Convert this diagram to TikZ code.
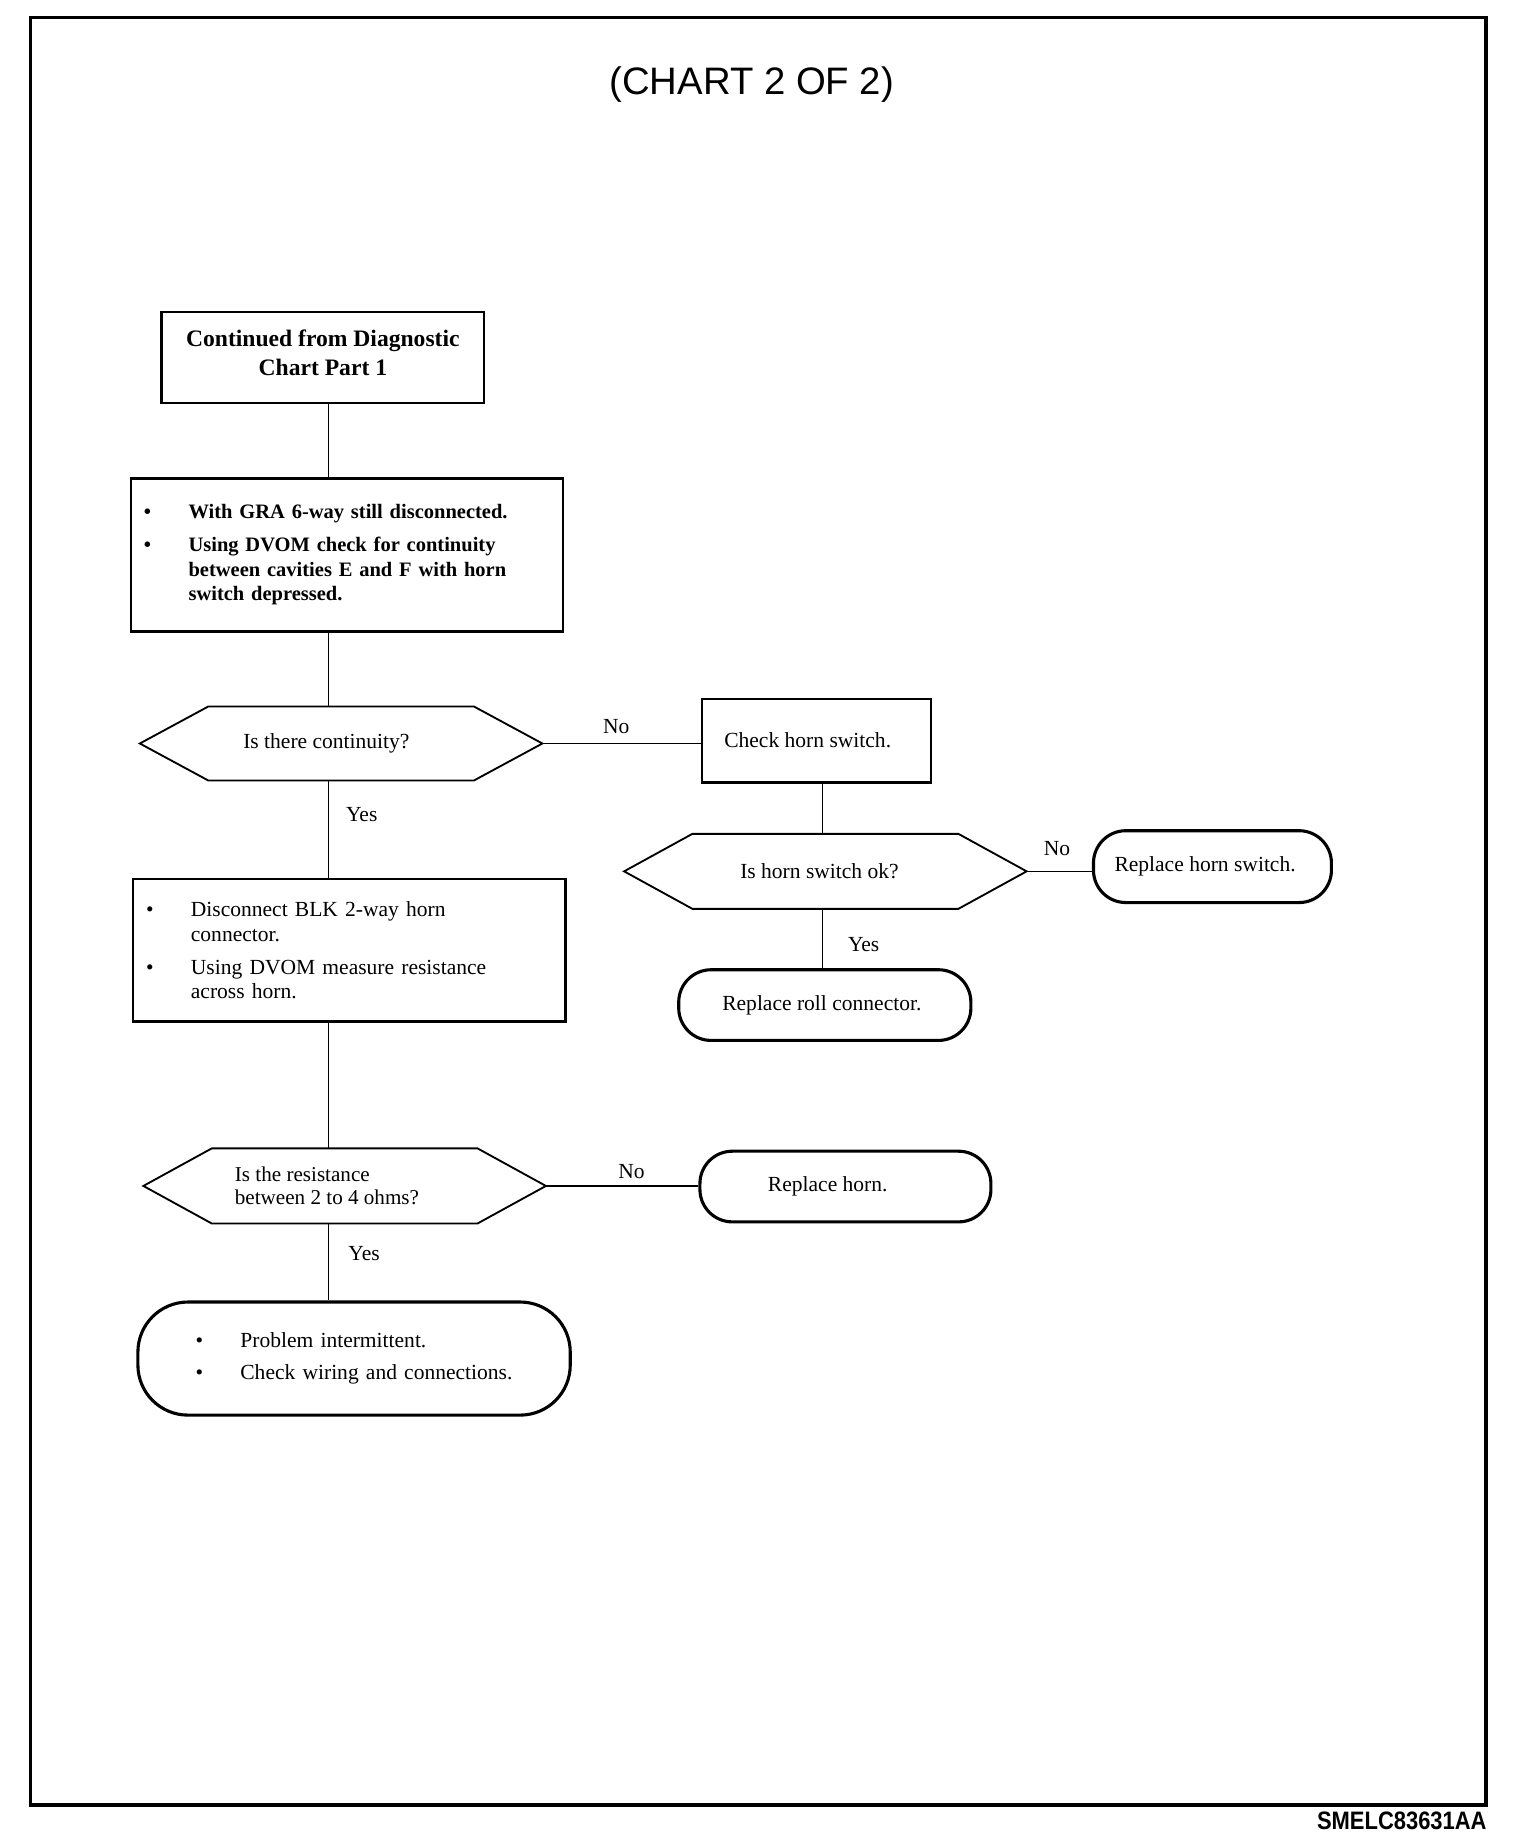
\documentclass[tikz,border=0pt]{standalone}
\usepackage{fontspec}
\setmainfont{Liberation Serif}
\newfontfamily\arialf{Liberation Sans}
\newcommand{\bul}[2]{\makebox[#2][l]{\hspace*{#1}\textbullet}}
\begin{document}
\begin{tikzpicture}[x=0.02cm,y=-0.02cm,
  rect/.style={draw, line width=1.1pt, inner sep=0pt},
  rnd/.style={draw, line width=1.5pt, inner sep=0pt},
  hexn/.style={inner sep=0pt, minimum width=6.82cm},
  hexline/.style={line width=0.9pt, line join=miter},
  conn/.style={line width=0.7pt},
  lab/.style={inner sep=1pt, font=\fontsize{10.4}{12}\selectfont},
  reg/.style={font=\fontsize{10.4}{11.9}\selectfont},
]
\useasboundingbox (0,0) rectangle (1290,1565);
% frame
\draw[line width=1.7pt] (26,15) rectangle (1261,1532);
\node[font=\arialf\fontsize{18.5}{20}\selectfont] (title) at (638,72) {(CHART 2 OF 2)};
\node[anchor=east, inner sep=0pt, font=\arialf\bfseries\fontsize{10.6}{12}\selectfont, yscale=1.15] (code) at (1262,1545) {SMELC83631AA};

\coordinate (tx) at (279,0);
\coordinate (tx2) at (698,0);

% box 1
\node[rect, minimum width=5.48cm, minimum height=1.54cm, align=center,
  font=\bfseries\fontsize{11.4}{14.2}\selectfont] (b1) at (274,303.5)
  {Continued from Diagnostic\\Chart Part 1\\[-9.6pt]};

% box 2
\node[rect, minimum width=7.34cm, minimum height=2.6cm, text width=7.34cm, align=left,
  font=\bfseries\fontsize{9.9}{11.9}\selectfont] (b2) at (294.5,471)
  {\bul{0.22cm}{0.98cm}With GRA 6-way still disconnected.\\[4pt]
   \bul{0.22cm}{0.98cm}Using DVOM check for continuity\\
   \hspace*{0.98cm}between cavities E and F with horn\\
   \hspace*{0.98cm}switch depressed.};

% hex 1
\node[hexn, minimum height=1.24cm, reg] (h1) at (289.5,631) {Is there continuity?\hspace*{0.5cm}};

% check horn switch
\node[rect, minimum width=3.88cm, minimum height=1.42cm, reg] (chk) at (693,628.5) {Check horn switch.\hspace*{0.3cm}};

% hex 2
\node[hexn, minimum height=1.26cm, reg] (h2) at (700.5,739.5) {Is horn switch ok?\hspace*{0.2cm}};

% replace horn switch
\node[rnd, minimum width=4.04cm, minimum height=1.22cm, rounded corners=0.55cm, reg] (rhs) at (1029,735.5) {Replace horn switch.\hspace*{0.25cm}};

% replace roll connector
\node[rnd, minimum width=4.96cm, minimum height=1.2cm, rounded corners=0.55cm, reg] (rrc) at (700,853) {Replace roll connector.\hspace*{0.1cm}};

% box 3
\node[rect, minimum width=7.34cm, minimum height=2.42cm, text width=7.34cm, align=left,
  font=\fontsize{10.4}{11.9}\selectfont] (b3) at (296.5,806.5)
  {\bul{0.22cm}{0.98cm}Disconnect BLK 2-way horn\\
   \hspace*{0.98cm}connector.\\[4pt]
   \bul{0.22cm}{0.98cm}Using DVOM measure resistance\\
   \hspace*{0.98cm}across horn.};

% hex 3
\node[hexn, minimum height=1.26cm, align=left, font=\fontsize{10.2}{10.8}\selectfont] (h3) at (292.5,1006.5)
  {Is the resistance\hspace*{0.6cm}\\between 2 to 4 ohms?\hspace*{0.6cm}};

% replace horn
\node[rnd, minimum width=4.94cm, minimum height=1.2cm, rounded corners=0.55cm, reg] (rh) at (717.5,1007) {Replace horn.\hspace*{0.6cm}};

% big terminal
\node[rnd, minimum width=7.34cm, minimum height=1.92cm, text width=7.34cm, align=left,
  rounded corners=0.85cm, font=\fontsize{10.4}{11.9}\selectfont] (big) at (300.5,1153)
  {\bul{0.98cm}{1.74cm}Problem intermittent.\\[3.5pt]
   \bul{0.98cm}{1.74cm}Check wiring and connections.\par\vspace*{4.5pt}};

% hexagon outlines
\foreach \h in {h1,h2,h3}{
  \draw[hexline] (\h.west) -- ([xshift=1.16cm]\h.north west) -- ([xshift=-1.16cm]\h.north east)
    -- (\h.east) -- ([xshift=-1.16cm]\h.south east) -- ([xshift=1.16cm]\h.south west) -- cycle;
}

% connectors
\draw[conn] (tx |- b1.south) -- (tx |- b2.north);
\draw[conn] (tx |- b2.south) -- (tx |- h1.north);
\draw[conn] (h1.east) -- (h1.east -| chk.west);
\draw[conn] (tx2 |- chk.south) -- (tx2 |- h2.north);
\draw[conn] (h2.east) -- (h2.east -| rhs.west);
\draw[conn] (tx2 |- h2.south) -- (tx2 |- rrc.north);
\draw[conn] (tx |- h1.south) -- (tx |- b3.north);
\draw[conn] (tx |- b3.south) -- (tx |- h3.north);
\draw[conn] (h3.east) -- (h3.east -| rh.west);
\draw[conn] (tx |- h3.south) -- (tx |- big.north);

% labels
\node[lab] (no1) at (523,617) {No};
\node[lab] (yes1) at (307,691) {Yes};
\node[lab] (no2) at (897,720) {No};
\node[lab] (yes2) at (733,802) {Yes};
\node[lab] (no3) at (536,994) {No};
\node[lab] (yes3) at (309,1064) {Yes};
\end{tikzpicture}
\end{document}
